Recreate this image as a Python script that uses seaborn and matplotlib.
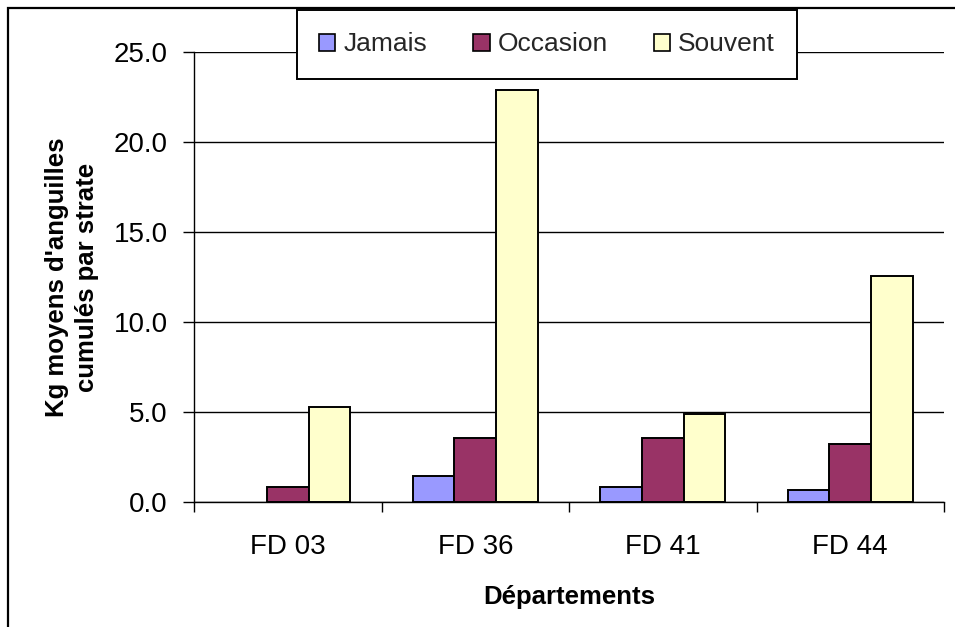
import matplotlib
matplotlib.use("Agg")
import matplotlib.pyplot as plt
from matplotlib.patches import Rectangle
import seaborn as sns
import pandas as pd

# ---- data ----
departements = ["FD 03", "FD 36", "FD 41", "FD 44"]
strates = ["Jamais", "Occasion", "Souvent"]
jamais = [0.0, 1.44, 0.83, 0.65]
occasion = [0.83, 3.58, 3.58, 3.24]
souvent = [5.28, 22.87, 4.91, 12.56]
y_ticks = [0.0, 5.0, 10.0, 15.0, 20.0, 25.0]
colors = ["#9999FF", "#993366", "#FFFFCC"]

rows = []
for s, vals in zip(strates, [jamais, occasion, souvent]):
    for d, v in zip(departements, vals):
        rows.append({"Département": d, "Strate": s, "Kg": v})
df = pd.DataFrame(rows)

sns.set_theme(style="white")
plt.rcParams["font.family"] = ["Liberation Sans", "DejaVu Sans"]

W, H = 955, 627
fig = plt.figure(figsize=(W / 100, H / 100), dpi=100)
ax = fig.add_axes([194 / W, 1 - 502 / H, (944 - 194) / W, (502 - 52) / H])

sns.barplot(data=df, x="Département", y="Kg", hue="Strate",
            order=departements, hue_order=strates, palette=colors,
            width=3 / 4.5, gap=0, edgecolor="black", linewidth=1.4,
            saturation=1, errorbar=None, ax=ax)

# zero-height bars are invisible in the reference
for p in ax.patches:
    if abs(p.get_height()) < 1e-9:
        p.set_linewidth(0)

handles, labels = ax.get_legend_handles_labels()
if ax.get_legend() is not None:
    ax.get_legend().remove()

ax.set_xlim(-0.5, len(departements) - 0.5)
ax.set_ylim(0, 25)
ax.set_yticks(y_ticks)
ax.set_yticklabels([f"{t:.1f}" for t in y_ticks])
ax.set_xticks(range(len(departements)))
ax.set_xticks([i - 0.5 for i in range(len(departements) + 1)], minor=True)
ax.set_xticklabels(departements)

ax.yaxis.grid(True, color="black", linewidth=1.0)
ax.set_axisbelow(True)

for side in ["top", "right"]:
    ax.spines[side].set_visible(False)
for side in ["left", "bottom"]:
    ax.spines[side].set_color("black")
    ax.spines[side].set_linewidth(1.0)

ax.tick_params(axis="y", which="major", direction="out", length=8, width=1,
               color="black", pad=11, labelsize=20, labelcolor="black", left=True)
ax.tick_params(axis="x", which="major", length=0, pad=23, labelsize=20,
               labelcolor="black")
ax.tick_params(axis="x", which="minor", direction="out", length=7, width=1,
               color="black", bottom=True)

ax.set_xlabel("Départements", fontsize=18.5, fontweight="bold", color="black",
              labelpad=18)
ax.set_ylabel("Kg moyens d'anguilles\ncumulés par strate", fontsize=18.5,
              fontweight="bold", color="black", va="center",
              multialignment="center", linespacing=1.3)
ax.yaxis.set_label_coords((72 - 194) / 750, 0.5)

for h in handles:
    h.set_linewidth(1.2)
    h.set_edgecolor("black")

leg = fig.legend(handles, labels, loc="upper center",
                 bbox_to_anchor=(547 / W, 1 - 10 / H), ncol=3,
                 fontsize=19, frameon=True, fancybox=False, framealpha=1,
                 edgecolor="black", borderaxespad=0, borderpad=0.85,
                 handlelength=0.62, handleheight=0.62, handletextpad=0.3,
                 columnspacing=1.75)
leg.get_frame().set_linewidth(1.4)

fig.add_artist(Rectangle((8 / W, -0.1), 1.5, 1.1 - 8 / H,
                         transform=fig.transFigure, fill=False,
                         edgecolor="black", linewidth=1.6))

fig.savefig("out.png", dpi=100, facecolor="white")
